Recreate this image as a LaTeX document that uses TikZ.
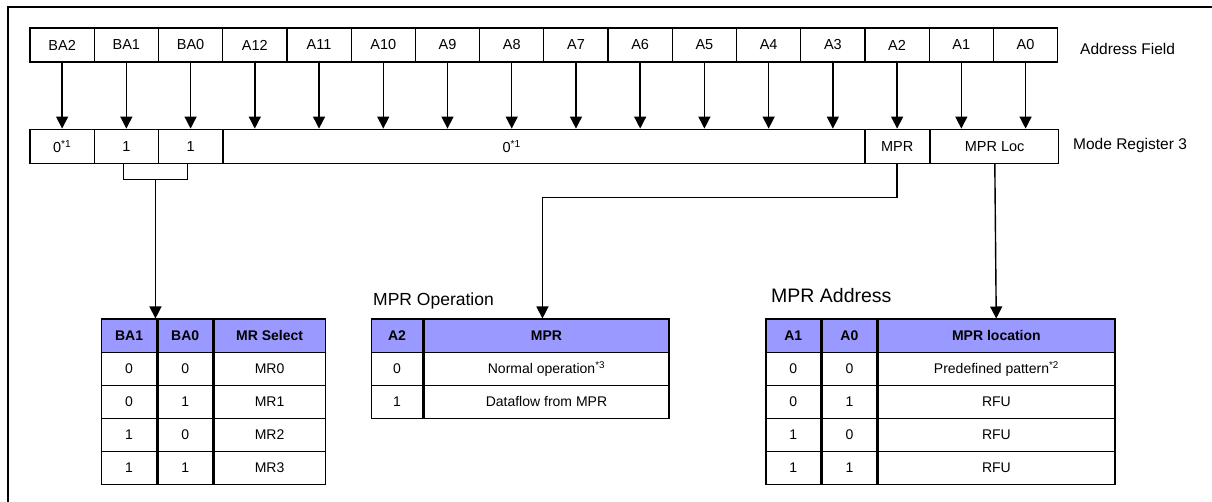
\documentclass[tikz,border=0pt]{standalone}
\usepackage{fontspec}
\setmainfont{Liberation Sans}
\usetikzlibrary{positioning,calc,arrows.meta}

\definecolor{hdrblue}{RGB}{153,153,255}

\begin{document}
\begin{tikzpicture}[x=1pt,y=-1pt,>={Triangle[width=12pt,length=12pt]},
	bit/.style={draw, rectangle, line width=1.2pt, inner sep=0pt,
		minimum width=64.23pt, minimum height=34pt, font=\fontsize{14.5}{17}\selectfont},
	cell/.style={draw, rectangle, line width=1.5pt, inner sep=0pt, anchor=north west,
		minimum height=33pt, font=\fontsize{14}{17}\selectfont},
	head/.style={cell, fill=hdrblue, font=\fontsize{14}{17}\selectfont\bfseries},
	tag/.style={inner sep=0pt, anchor=west, font=\fontsize{15.5}{18}\selectfont},
	wire/.style={line width=1.4pt}]
	
	\useasboundingbox (0,0) rectangle (1212,502);
	\draw[line width=2pt] (8,502) -- (8,7) -- (1212,7);
	
	% address field
	\foreach \lab [count=\i from 0] in {BA2,BA1,BA0,A12,A11,A10,A9,A8,A7,A6,A5,A4,A3,A2,A1,A0}
		\node[bit] (a\i) at ({30+(\i+0.5)*64.23},45) {\lab};
	\node[tag] (addr) at (1080,49) {Address Field};
	
	% mode register 3
	\node[bit, below=66pt of a0] (r0) {0\textsuperscript{*1}};
	\node[bit, below=66pt of a1] (r1) {1};
	\node[bit, below=66pt of a2] (r2) {1};
	\node[bit, anchor=north west, minimum width=641.61pt] (rz) at (r2.north east) {};
	\node[inner sep=0pt, font=\fontsize{14.5}{17}\selectfont] (rzl) at (a7 |- rz) {0\textsuperscript{*1}};
	\node[bit, below=66pt of a13] (rmpr) {MPR};
	\node[bit, anchor=north west, minimum width=128.46pt] (rloc) at (rmpr.north east) {MPR Loc};
	\node[tag] (mr3) at (1073,145) {Mode Register 3};
	
	\foreach \i in {0,...,15}
		\draw[wire,->] (a\i) -- (a\i |- rz.north);
	
	% MR select table
	\node[head, minimum width=55.3pt] (mh1) at (100.7,318.5) {BA1};
	\node[head, minimum width=54pt] (mh2) at (mh1.north east) {BA0};
	\node[head, minimum width=111.7pt] (mh3) at (mh2.north east) {MR Select};
	\foreach \p/\q/\s [count=\r] in {0/0/MR0,0/1/MR1,1/0/MR2,1/1/MR3} {
		\node[cell, minimum width=55.3pt] (m\r a) at (100.7,{318.5+\r*33}) {\p};
		\node[cell, minimum width=54pt] (m\r b) at (m\r a.north east) {\q};
		\node[cell, minimum width=111.7pt] (m\r c) at (m\r b.north east) {\s};
	}
	
	% MPR operation table
	\node[inner sep=0pt, anchor=base west, font=\fontsize{17.5}{20}\selectfont] (optitle) at (373,305.7) {MPR Operation};
	\node[head, minimum width=51pt] (oh1) at (370.7,318.5) {A2};
	\node[head, minimum width=245pt] (oh2) at (oh1.north east) {MPR};
	\foreach \p/\s [count=\r] in {0/Normal operation\textsuperscript{*3},1/Dataflow from MPR} {
		\node[cell, minimum width=51pt] (o\r a) at (370.7,{318.5+\r*33}) {\p};
		\node[cell, minimum width=245pt] (o\r b) at (o\r a.north east) {\s};
	}
	
	% MPR address table
	\node[inner sep=0pt, anchor=base west, font=\fontsize{19.5}{22}\selectfont] (adtitle) at (771,302.3) {MPR Address};
	\node[head, minimum width=55pt] (ph1) at (765,318.5) {A1};
	\node[head, minimum width=54.3pt] (ph2) at (ph1.north east) {A0};
	\node[head, minimum width=236.7pt] (ph3) at (ph2.north east) {MPR location};
	\foreach \p/\q/\s [count=\r] in {0/0/Predefined pattern\textsuperscript{*2},0/1/RFU,1/0/RFU,1/1/RFU} {
		\node[cell, minimum width=55pt] (p\r a) at (765,{318.5+\r*33}) {\p};
		\node[cell, minimum width=54.3pt] (p\r b) at (p\r a.north east) {\q};
		\node[cell, minimum width=236.7pt] (p\r c) at (p\r b.north east) {\s};
	}
	
	% connectors to the tables
	\coordinate (brk) at ($(r1.south)!0.5!(r2.south)+(-3,16)$);
	\draw[wire] ([xshift=-3pt]r1.south) |- (brk) -| ([xshift=-3pt]r2.south);
	\draw[wire,->] (brk) -- (brk |- mh1.north);
	\draw[wire,->] (rmpr.south) -- ++(0,34) -| ([xshift=-4pt]oh2.north);
	\draw[wire,->] (rloc) -- (ph3);
	
\end{tikzpicture}
\end{document}
